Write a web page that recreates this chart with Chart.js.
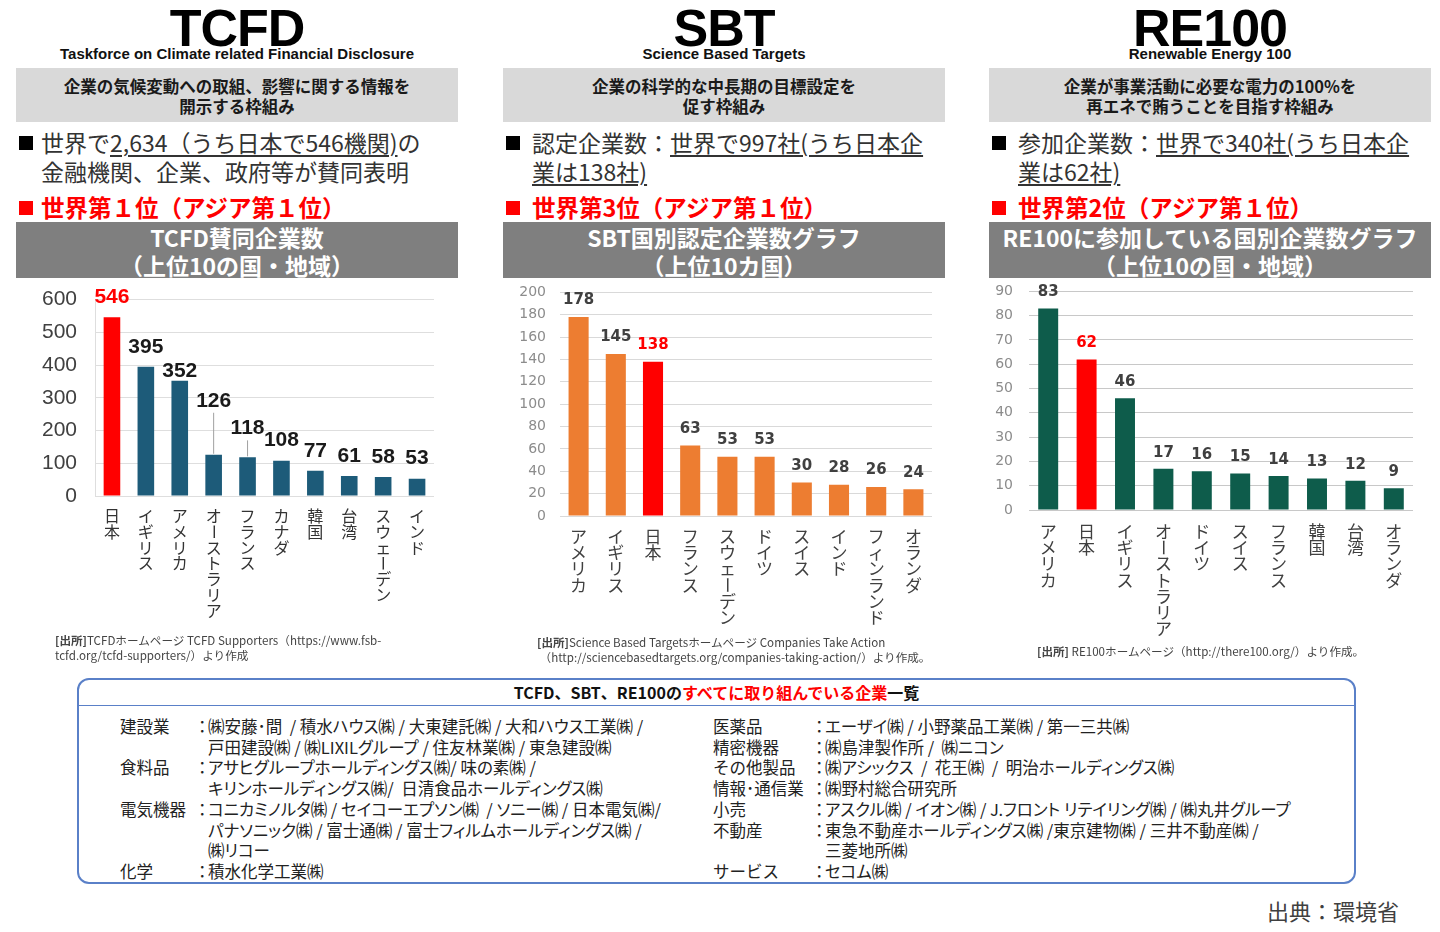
<!DOCTYPE html>
<html lang="ja">
<head>
<meta charset="utf-8">
<title>TCFD / SBT / RE100</title>
<script src="https://cdn.jsdelivr.net/npm/chart.js@4/dist/chart.umd.min.js"></script>
<style>
  html, body { margin: 0; padding: 0; background: #fff; }
  body { width: 1440px; height: 932px; position: relative; overflow: hidden;
         font-family: "Noto Sans CJK JP", "Noto Sans", sans-serif; color: #333; }
  .abs { position: absolute; }
  .title { font-family: "Liberation Sans", Arial, sans-serif; font-weight: bold; font-size: 52px;
           line-height: 52px; color: #000; text-align: center; width: 442px; top: 2px; letter-spacing: -1px; }
  .sub { font-family: "Liberation Sans", Arial, sans-serif; font-weight: bold; font-size: 15px;
         line-height: 16px; color: #111; text-align: center; width: 442px; top: 46px; }
  .desc { background: #d9d9d9; top: 68px; height: 54px; width: 442px; box-sizing: border-box;
          padding-top: 8px; text-align: center; font-weight: bold; font-size: 16.5px; line-height: 20px; color: #1a1a1a; }
  .sq { width: 14px; height: 14px; background: #000; }
  .sq.red { background: #ff0000; }
  .bul { font-size: 23px; line-height: 29px; color: #333; white-space: nowrap; }
  .bul u { text-decoration-thickness: 1.5px; text-underline-offset: 3px; }
  .rank { font-size: 23.5px; line-height: 29px; color: #ff0000; font-weight: bold; white-space: nowrap; }
  .band { background: #7f7f7f; top: 222px; height: 56px; width: 442px; box-sizing: border-box; padding-top: 1px;
          text-align: center; color: #fff; font-weight: bold; font-size: 23px; line-height: 28px; white-space: nowrap; }
  .src { font-size: 11.6px; line-height: 15px; color: #444; white-space: nowrap; }
  .src b { font-weight: bold; }
  #box { left: 77px; top: 678px; width: 1279px; height: 206px; box-sizing: border-box;
         border: 2px solid #5a80c8; border-radius: 12px; }
  #boxHead { left: 79px; top: 679px; width: 1275px; height: 26px; border-bottom: 1.5px solid #5a80c8;
             text-align: center; font-weight: bold; font-size: 16px; line-height: 26px; color: #111; }
  .row { font-size: 16.5px; line-height: 20.7px; color: #222; white-space: pre; }
  .row.kana { font-feature-settings: "palt"; }
</style>
</head>
<body>

<!-- TCFD column -->
<div class="abs title" style="left:16px">TCFD</div>
<div class="abs sub" style="left:16px">Taskforce on Climate related Financial Disclosure</div>
<div class="abs desc" style="left:16px">企業の気候変動への取組、影響に関する情報を<br>開示する枠組み</div>
<div class="abs sq" style="left:19px;top:136px"></div>
<div class="abs bul" style="left:41px;top:128px">世界で<u>2,634（うち日本で546機関)</u>の<br>金融機関、企業、政府等が賛同表明</div>
<div class="abs sq red" style="left:19px;top:201px"></div>
<div class="abs rank" style="left:41px;top:193px">世界第１位（アジア第１位）</div>
<div class="abs band" style="left:16px">TCFD賛同企業数<br>（上位10の国・地域）</div>
<canvas id="c1" class="abs" width="442" height="371" style="left:16px;top:269px"></canvas>
<div class="abs src" style="left:55px;top:633px"><b>[出所]</b>TCFDホームページ TCFD Supporters（https://www.fsb-<br>tcfd.org/tcfd-supporters/）より作成</div>

<!-- SBT column -->
<div class="abs title" style="left:503px">SBT</div>
<div class="abs sub" style="left:503px">Science Based Targets</div>
<div class="abs desc" style="left:503px">企業の科学的な中長期の目標設定を<br>促す枠組み</div>
<div class="abs sq" style="left:506px;top:136px"></div>
<div class="abs bul" style="left:532px;top:128px">認定企業数：<u>世界で997社(うち日本企</u><br><u>業は138社)</u></div>
<div class="abs sq red" style="left:506px;top:201px"></div>
<div class="abs rank" style="left:532px;top:193px">世界第3位（アジア第１位）</div>
<div class="abs band" style="left:503px">SBT国別認定企業数グラフ<br>（上位10カ国）</div>
<canvas id="c2" class="abs" width="441" height="370" style="left:503px;top:270px"></canvas>
<div class="abs src" style="left:537px;top:635px"><b>[出所]</b>Science Based Targetsホームページ Companies Take Action<br>&nbsp;（http://sciencebasedtargets.org/companies-taking-action/）より作成。</div>

<!-- RE100 column -->
<div class="abs title" style="left:989px">RE100</div>
<div class="abs sub" style="left:989px">Renewable Energy 100</div>
<div class="abs desc" style="left:989px">企業が事業活動に必要な電力の100%を<br>再エネで賄うことを目指す枠組み</div>
<div class="abs sq" style="left:992px;top:136px"></div>
<div class="abs bul" style="left:1018px;top:128px">参加企業数：<u>世界で340社(うち日本企</u><br><u>業は62社)</u></div>
<div class="abs sq red" style="left:992px;top:201px"></div>
<div class="abs rank" style="left:1018px;top:193px">世界第2位（アジア第１位）</div>
<div class="abs band" style="left:989px">RE100に参加している国別企業数グラフ<br>（上位10の国・地域）</div>
<canvas id="c3" class="abs" width="441" height="373" style="left:989px;top:267px"></canvas>
<div class="abs src" style="left:1037px;top:644px"><b>[出所]</b> RE100ホームページ（http://there100.org/）より作成。</div>

<!-- company list -->
<div id="box" class="abs"></div>
<div id="boxHead" class="abs">TCFD、SBT、RE100の<span style="color:#ff0000">すべてに取り組んでいる企業</span>一覧</div>

<div class="abs row" style="left:120px;top:716px">建設業<br><br>食料品<br><br>電気機器<br><br><br>化学</div>
<div class="abs row" style="left:194px;top:716px">：<br><br>：<br><br>：<br><br><br>：</div>
<div class="abs row kana" style="left:208px;top:716px">㈱安藤･間  / 積水ハウス㈱ / 大東建託㈱ / 大和ハウス工業㈱ /<br>戸田建設㈱ / ㈱LIXILグループ / 住友林業㈱ / 東急建設㈱<br>アサヒグループホールディングス㈱/ 味の素㈱ /<br>キリンホールディングス㈱/  日清食品ホールディングス㈱<br>コニカミノルタ㈱ / セイコーエプソン㈱  / ソニー㈱ / 日本電気㈱/<br>パナソニック㈱ / 富士通㈱ / 富士フィルムホールディングス㈱ /<br>㈱リコー<br>積水化学工業㈱</div>

<div class="abs row" style="left:713px;top:716px">医薬品<br>精密機器<br>その他製品<br>情報･通信業<br>小売<br>不動産<br><br>サービス</div>
<div class="abs row" style="left:811px;top:716px">：<br>：<br>：<br>：<br>：<br>：<br><br>：</div>
<div class="abs row kana" style="left:825px;top:716px">エーザイ㈱ / 小野薬品工業㈱ / 第一三共㈱<br>㈱島津製作所 /  ㈱ニコン<br>㈱アシックス  /  花王㈱  /  明治ホールディングス㈱<br>㈱野村総合研究所<br>アスクル㈱ / イオン㈱ / J.フロント リテイリング㈱ / ㈱丸井グループ<br>東急不動産ホールディングス㈱ /東京建物㈱ / 三井不動産㈱ /<br>三菱地所㈱<br>セコム㈱</div>

<div class="abs" style="left:1267px;top:896px;font-size:22px;line-height:28px;color:#404040">出典：環境省</div>

<script>
// TCFD supporters, top 10 countries/regions
const tcfdCountries = ['日本', 'イギリス', 'アメリカ', 'オーストラリア', 'フランス', 'カナダ', '韓国', '台湾', 'スウェーデン', 'インド'];
const tcfdValues = [546, 395, 352, 126, 118, 108, 77, 61, 58, 53];
const tcfdTicks = [0, 100, 200, 300, 400, 500, 600];

// SBT certified companies, top 10 countries
const sbtCountries = ['アメリカ', 'イギリス', '日本', 'フランス', 'スウェーデン', 'ドイツ', 'スイス', 'インド', 'フィンランド', 'オランダ'];
const sbtValues = [178, 145, 138, 63, 53, 53, 30, 28, 26, 24];
const sbtTicks = [0, 20, 40, 60, 80, 100, 120, 140, 160, 180, 200];

// RE100 participants, top 10 countries/regions
const re100Countries = ['アメリカ', '日本', 'イギリス', 'オーストラリア', 'ドイツ', 'スイス', 'フランス', '韓国', '台湾', 'オランダ'];
const re100Values = [83, 62, 46, 17, 16, 15, 14, 13, 12, 9];
const re100Ticks = [0, 10, 20, 30, 40, 50, 60, 70, 80, 90];

const JAPAN = '日本';

// value labels above bars + vertical (top-to-bottom) category labels
const barText = {
    id: 'barText',
    afterDatasetsDraw(chart, args, opts) {
        const ctx = chart.ctx;
        const meta = chart.getDatasetMeta(0);
        const values = chart.data.datasets[0].data;
        const hi = chart.data.labels.indexOf(JAPAN);

        ctx.save();
        ctx.textAlign = 'center';
        ctx.textBaseline = 'middle';
        ctx.font = opts.valueFont;
        meta.data.forEach((bar, i) => {
            const lift = (opts.lift && opts.lift[i]) || 0;
            const y = bar.y - opts.gap - lift;
            ctx.fillStyle = i === hi ? '#ff0000' : opts.valueColor;
            ctx.fillText(String(values[i]), bar.x, y);
            if (lift > 5) {
                ctx.strokeStyle = '#a0a0a0';
                ctx.lineWidth = 1;
                ctx.beginPath();
                ctx.moveTo(bar.x, y + 12);
                ctx.lineTo(bar.x, bar.y - 1);
                ctx.stroke();
            }
        });

        const xs = chart.scales.x;
        ctx.font = opts.labelFont;
        ctx.fillStyle = opts.labelColor;
        chart.data.labels.forEach((lab, i) => {
            const x = xs.getPixelForValue(i);
            [...lab].forEach((ch, j) => {
                const cy = xs.top + opts.labelTop + j * opts.labelStep + opts.labelStep / 2;
                if (ch === 'ー') {
                    ctx.save();
                    ctx.translate(x, cy);
                    ctx.rotate(Math.PI / 2);
                    ctx.fillText(ch, 0, 0);
                    ctx.restore();
                } else {
                    ctx.fillText(ch, x, cy);
                }
            });
        });
        ctx.restore();
    }
};

function makeChart(id, labels, values, ticks, cfg) {
    const hi = labels.indexOf(JAPAN);
    return new Chart(document.getElementById(id), {
        type: 'bar',
        data: {
            labels: labels,
            datasets: [{
                data: values,
                backgroundColor: values.map((v, i) => i === hi ? '#ff0000' : cfg.barColor),
                categoryPercentage: 1,
                barPercentage: cfg.barPct
            }]
        },
        options: {
            responsive: false,
            animation: false,
            layout: { padding: { top: cfg.padTop, right: cfg.padRight, left: 0, bottom: 0 } },
            scales: {
                x: {
                    grid: { display: false },
                    border: { display: false },
                    ticks: { display: false },
                    afterFit: s => { s.height = cfg.xHeight; }
                },
                y: {
                    min: ticks[0],
                    max: ticks[ticks.length - 1],
                    afterBuildTicks: s => { s.ticks = ticks.map(v => ({ value: v })); },
                    grid: { color: cfg.gridColor, lineWidth: 1, drawTicks: false },
                    border: { display: cfg.yBorder, color: cfg.gridColor },
                    ticks: { padding: cfg.tickPad, color: cfg.tickColor, font: cfg.tickFont },
                    afterFit: s => { s.width = cfg.yWidth; }
                }
            },
            plugins: {
                legend: { display: false },
                tooltip: { enabled: false },
                barText: cfg.text
            }
        },
        plugins: [barText]
    });
}

makeChart('c1', tcfdCountries, tcfdValues, tcfdTicks, {
    barColor: '#1d5b79', barPct: 0.49,
    padTop: 16, padRight: 24, xHeight: 144, yWidth: 79, tickPad: 18,
    gridColor: '#dedede', yBorder: true,
    tickColor: '#404040', tickFont: { family: 'Liberation Sans', size: 21 },
    text: {
        valueFont: 'bold 21px "Liberation Sans"', valueColor: '#1a1a1a', gap: 20,
        lift: [0, 0, -10, 34, 9, 0, 0, 0, 0, 0],
        labelFont: '16px "Noto Sans CJK JP"', labelColor: '#333', labelTop: 12, labelStep: 15.8
    }
});

makeChart('c2', sbtCountries, sbtValues, sbtTicks, {
    barColor: '#ed7d31', barPct: 0.54,
    padTop: 9, padRight: 12, xHeight: 124, yWidth: 57, tickPad: 14,
    gridColor: '#d9d9d9', yBorder: false,
    tickColor: '#8c8c8c', tickFont: { family: 'DejaVu Sans', size: 14 },
    text: {
        valueFont: 'bold 15px "DejaVu Sans"', valueColor: '#404040', gap: 16.5,
        labelFont: '17px "Noto Sans CJK JP"', labelColor: '#404040', labelTop: 12, labelStep: 16.3
    }
});

makeChart('c3', re100Countries, re100Values, re100Ticks, {
    barColor: '#0e5c4b', barPct: 0.52,
    padTop: 8, padRight: 17, xHeight: 130, yWidth: 40, tickPad: 16,
    gridColor: '#c8c8c8', yBorder: false,
    tickColor: '#8c8c8c', tickFont: { family: 'DejaVu Sans', size: 14 },
    text: {
        valueFont: 'bold 15px "DejaVu Sans"', valueColor: '#404040', gap: 16,
        labelFont: '17px "Noto Sans CJK JP"', labelColor: '#404040', labelTop: 13, labelStep: 16.3
    }
});
</script>
</body>
</html>
